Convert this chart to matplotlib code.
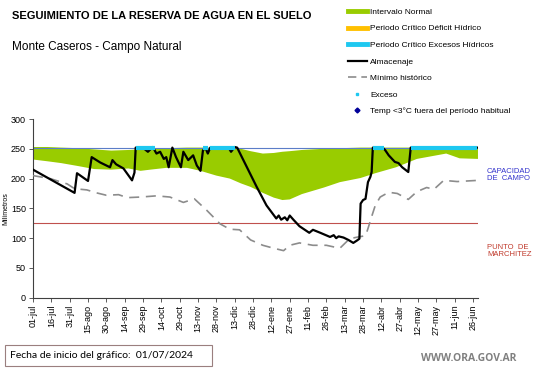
import numpy as np
import matplotlib
matplotlib.use('Agg')
import matplotlib.pyplot as plt
from matplotlib.lines import Line2D
from matplotlib.patches import Rectangle

plt.rcParams['font.family'] = ['Liberation Sans', 'DejaVu Sans']

# ---- data (day 0 = 01/07/2024) ----
tick_labels = ['01-jul', '16-jul', '31-jul', '15-ago', '30-ago', '14-sep', '29-sep',
               '14-oct', '29-oct', '13-nov', '28-nov', '13-dic', '28-dic', '12-ene',
               '27-ene', '11-feb', '26-feb', '13-mar', '28-mar', '12-abr', '27-abr',
               '12-may', '27-may', '11-jun', '26-jun']

# intervalo normal (green band)
band_days = [0, 12, 23, 37, 50, 64, 78, 88, 96, 109, 126, 137, 150, 161, 170, 178,
             188, 197, 204, 210, 220, 238, 251, 268, 280, 297, 308, 314, 322, 338, 349, 364]
band_low = [232, 229, 226, 221, 216, 215, 217, 213, 215, 218, 218, 213, 205, 200, 192, 186,
            176, 168, 164, 165, 174, 185, 194, 201, 209, 219, 228, 233, 236, 242, 234, 233]
band_high = [253, 253, 252, 251, 249, 247, 248, 249, 250, 251, 252, 252, 252, 251, 250, 246,
             242, 243, 245, 246, 248, 250, 251, 252, 252, 252, 252, 252, 252, 252, 252, 252]

# almacenaje (black)
alm_days = [0, 34, 36, 45, 48, 55, 60, 63, 65, 68, 74, 81, 83, 84, 89, 91, 94, 98, 101,
            104, 107, 109, 111, 114, 117, 121, 123, 127, 131, 134, 137, 139, 141, 143, 145,
            160, 162, 165, 167, 175, 183, 191, 199, 201, 203, 206, 208, 210, 213, 218, 226,
            229, 235, 243, 246, 248, 250, 254, 258, 262, 265, 267, 268, 270, 272, 274, 276,
            277, 278, 286, 288, 291, 296, 299, 302, 307, 309, 364]
alm_vals = [215, 176, 209, 196, 236, 227, 222, 219, 231, 224, 217, 197, 210, 252, 252, 250,
            245, 253, 242, 245, 233, 236, 219, 252, 236, 219, 245, 231, 239, 222, 213, 247,
            252, 242, 252, 252, 245, 253, 252, 219, 186, 155, 133, 138, 131, 135, 130, 138,
            131, 120, 109, 114, 109, 102, 105, 100, 103, 101, 97, 92, 96, 99, 158, 164, 166,
            194, 203, 211, 252, 252, 248, 239, 228, 226, 219, 211, 252, 252]

# minimo historico (grey dashed)
min_days = [0, 14, 28, 34, 44, 52, 60, 70, 77, 88, 101, 112, 123, 132, 142, 153, 161, 169,
            178, 188, 197, 205, 210, 218, 229, 240, 251, 259, 266, 272, 274, 277, 280, 284,
            291, 298, 307, 314, 322, 328, 336, 347, 364]
min_vals = [205, 200, 191, 183, 181, 176, 172, 173, 168, 169, 171, 169, 160, 166, 147, 124,
            115, 114, 97, 88, 83, 79, 88, 92, 88, 88, 83, 99, 102, 104, 116, 136, 155, 169,
            177, 175, 165, 178, 185, 182, 197, 195, 197]

# periods with excess (cyan)
exc_start = [84, 139, 145, 278, 309]
exc_end = [100, 143, 165, 287, 363]

capacidad = 252
marchitez = 125

green = '#99CC00'
cyan = '#1EC8F0'

fig = plt.figure(figsize=(5.41, 3.68), dpi=100)
ax = fig.add_axes([0.061, 0.191, 0.8225, 0.4856])

ax.fill(np.r_[band_days, band_days[::-1]], np.r_[band_high, band_low[::-1]],
        color=green, lw=0, zorder=1)
ax.axhline(capacidad, color='#5B7DC8', lw=0.8, zorder=2)
ax.axhline(marchitez, color='#C0504D', lw=0.8, zorder=2)
ax.plot(min_days, min_vals, color='#8C8C8C', lw=1.2, dashes=(6, 4), zorder=3)
ax.plot(alm_days, alm_vals, color='black', lw=1.6, zorder=4)
ax.hlines([capacidad] * len(exc_start), exc_start, exc_end, color=cyan, lw=3, zorder=5)

ax.set_xlim(0, 364)
ax.set_ylim(0, 300)
ax.set_yticks(range(0, 301, 50))
ax.set_xticks(np.arange(len(tick_labels)) * 15)
ax.set_xticklabels(tick_labels, rotation=90)
ax.tick_params(labelsize=6.5, length=3, width=0.6, colors='#404040', pad=2)
ax.tick_params(labelcolor='black')
for s in ['top', 'right']:
    ax.spines[s].set_visible(False)
for s in ['left', 'bottom']:
    ax.spines[s].set_color('#404040')
    ax.spines[s].set_linewidth(0.8)
ax.set_ylabel('Milímetros', fontsize=5, labelpad=1)

# titles
fig.text(0.022, 0.957, 'SEGUIMIENTO DE LA RESERVA DE AGUA EN EL SUELO',
         fontsize=8, fontweight='bold', va='center')
fig.text(0.022, 0.872, 'Monte Caseros - Campo Natural', fontsize=8.5, va='center')

# right side labels
fig.text(0.9, 0.525, 'CAPACIDAD\nDE  CAMPO', color='#3333CC', fontsize=5.5,
         va='center', linespacing=1.1)
fig.text(0.9, 0.318, 'PUNTO  DE\nMARCHITEZ', color='#C0392B', fontsize=5.5,
         va='center', linespacing=1.1)

# legend
handles = [Line2D([], [], color=green, lw=3.5),
           Line2D([], [], color='#FFC000', lw=3.5),
           Line2D([], [], color=cyan, lw=3.5),
           Line2D([], [], color='black', lw=1.6),
           Line2D([], [], color='#8C8C8C', lw=1.2, dashes=(5, 3)),
           Line2D([], [], color=cyan, lw=0, marker='s', markersize=2),
           Line2D([], [], color='#000099', lw=0, marker='D', markersize=2.5)]
labels = ['Intervalo Normal', 'Periodo Crítico Déficit Hídrico',
          'Periodo Crítico Excesos Hídricos', 'Almacenaje', 'Mínimo histórico',
          'Exceso', 'Temp <3°C fuera del período habitual']
fig.legend(handles, labels, loc='upper left', bbox_to_anchor=(0.638, 0.985),
           frameon=False, fontsize=6, labelspacing=1.05, handlelength=2.3,
           handletextpad=0.4, borderpad=0.3, borderaxespad=0)

# footer
fig.patches.append(Rectangle((5 / 541, 2 / 368), 207 / 541, 21 / 368,
                             transform=fig.transFigure, fc='white', ec='#9A7F7F', lw=0.8))
fig.text(0.019, 0.034, 'Fecha de inicio del gráfico:  01/07/2024', fontsize=7.5,
         family=['Lato', 'DejaVu Sans'], va='center')
fig.text(0.954, 0.027, 'WWW.ORA.GOV.AR', fontsize=7.5, color='#808080',
         fontweight='bold', ha='right', va='center', family=['Open Sans', 'DejaVu Sans'])

fig.savefig('out.png', dpi=100)
